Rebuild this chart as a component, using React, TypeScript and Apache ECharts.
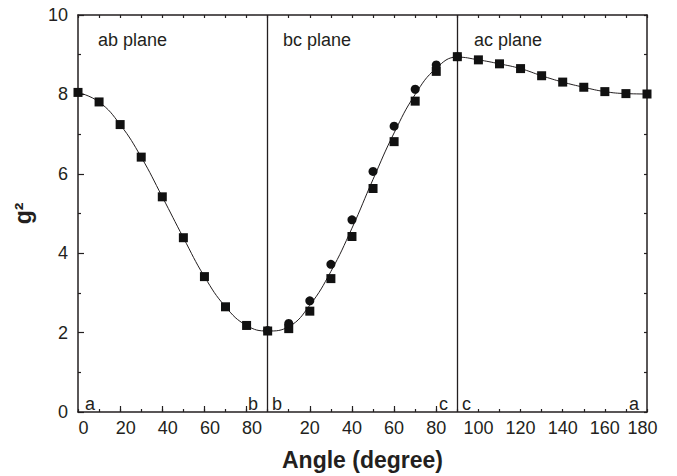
import React, { useEffect, useRef } from "react";
import * as echarts from "echarts";

// ---- data (x = cumulative rotation, 0-90 ab, 90-180 bc, 180-270 ac) ----
const abAngles = [0, 10, 20, 30, 40, 50, 60, 70, 80, 90];
const abSquares = [8.05, 7.81, 7.24, 6.42, 5.42, 4.39, 3.41, 2.65, 2.18, 2.04];

const bcSquareAngles = [100, 110, 120, 130, 140, 150, 160, 170];
const bcSquares = [2.1, 2.54, 3.36, 4.42, 5.63, 6.81, 7.83, 8.58];

const bcCircleAngles = [90, 100, 110, 120, 130, 140, 150, 160, 170, 180];
const bcCircles = [2.05, 2.23, 2.8, 3.72, 4.84, 6.06, 7.2, 8.13, 8.74, 8.95];

const acAngles = [180, 190, 200, 210, 220, 230, 240, 250, 260, 270];
const acSquares = [8.95, 8.87, 8.77, 8.65, 8.47, 8.31, 8.18, 8.07, 8.02, 8.01];

const fitAngles = [
  0, 10, 20, 30, 40, 50, 60, 70, 80, 90, 100, 110, 120, 130, 140, 150, 160, 170,
  180, 190, 200, 210, 220, 230, 240, 250, 260, 270,
];
const fitValues = [
  8.05, 7.81, 7.24, 6.42, 5.42, 4.39, 3.41, 2.65, 2.18, 2.04, 2.15, 2.69, 3.54,
  4.63, 5.86, 7.03, 8.0, 8.66, 8.94, 8.87, 8.77, 8.65, 8.47, 8.31, 8.18, 8.07,
  8.02, 8.01,
];

const planeDividers = [90, 180];
const majorTickPositions = [20, 40, 60, 80, 110, 130, 150, 170];
const planeNames = ["ab plane", "bc plane", "ac plane"];

const INK = "#231f20";
const FONT = "'Liberation Sans', Arial, Helvetica, sans-serif";

const zip = (xs: number[], ys: number[]) => xs.map((x, i) => [x, ys[i]]);

export default function App() {
  const ref = useRef<HTMLDivElement>(null);

  useEffect(() => {
    if (!ref.current) return;
    const chart = echarts.init(ref.current, null, { renderer: "svg" });

    const tickCats = fitAngles.map((v) => String(v));

    const xLabelFormatter = (v: number) => {
      if (v <= 80) return v % 20 === 0 ? `{ab|${v}}` : "";
      if (v === 90 || v === 180) return "";
      const rel = v - 90;
      if (rel % 20 !== 0) return "";
      if (v === 270) return `{end|${rel}}`;
      return String(rel);
    };

    const scatterBase = {
      type: "scatter",
      xAxisIndex: 0,
      yAxisIndex: 0,
      symbolSize: 9,
      itemStyle: { color: "#111111", opacity: 1 },
      z: 5,
    };

    const textStyleBase = { fill: INK, fontSize: 18, fontFamily: FONT };

    chart.setOption({
      animation: false,
      textStyle: { fontFamily: FONT },
      grid: { left: 78, right: 30, top: 15, bottom: 62, containLabel: false },
      xAxis: [
        {
          type: "value",
          min: 0,
          max: 270,
          interval: 10,
          position: "bottom",
          axisLine: { show: true, onZero: false, lineStyle: { color: INK, width: 1.5 } },
          axisTick: { show: true, inside: true, length: 3, lineStyle: { color: INK, width: 1.2 } },
          splitLine: { show: false },
          axisLabel: {
            show: true,
            margin: 7,
            fontSize: 18,
            color: INK,
            fontFamily: FONT,
            showMinLabel: true,
            showMaxLabel: true,
            formatter: xLabelFormatter,
            rich: {
              ab: { fontSize: 18, color: INK, fontFamily: FONT, padding: [0, 0, 0, 11] },
              end: { fontSize: 18, color: INK, fontFamily: FONT, padding: [0, 9, 0, 0] },
            },
          },
          name: "Angle (degree)",
          nameLocation: "middle",
          nameGap: 36,
          nameTextStyle: { fontSize: 23, fontWeight: "bold", color: INK, fontFamily: FONT },
        },
        {
          type: "value",
          min: 0,
          max: 270,
          interval: 10,
          position: "top",
          axisLine: { show: true, onZero: false, lineStyle: { color: INK, width: 1.5 } },
          axisTick: { show: true, inside: true, length: 3, lineStyle: { color: INK, width: 1.2 } },
          axisLabel: { show: false },
          splitLine: { show: false },
        },
        {
          type: "category",
          data: tickCats,
          boundaryGap: false,
          position: "bottom",
          axisLine: { show: false, onZero: false },
          axisTick: {
            show: true,
            inside: true,
            length: 6,
            lineStyle: { color: INK, width: 1.2 },
            interval: (i: number) => majorTickPositions.includes(fitAngles[i]),
          },
          axisLabel: { show: false },
          splitLine: { show: false },
        },
      ],
      yAxis: [
        {
          type: "value",
          min: 0,
          max: 10,
          interval: 2,
          position: "left",
          axisLine: { show: true, onZero: false, lineStyle: { color: INK, width: 1.5 } },
          axisTick: { show: true, inside: true, length: 6, lineStyle: { color: INK, width: 1.2 } },
          minorTick: { show: true, splitNumber: 2, length: 3, lineStyle: { color: INK, width: 1.2 } },
          splitLine: { show: false },
          minorSplitLine: { show: false },
          axisLabel: { fontSize: 18, color: INK, margin: 10, fontFamily: FONT },
          name: "g²",
          nameLocation: "middle",
          nameGap: 44,
          nameRotate: 90,
          nameTextStyle: { fontSize: 23, fontWeight: "bold", color: INK, fontFamily: FONT },
        },
        {
          type: "value",
          min: 0,
          max: 10,
          interval: 1,
          position: "right",
          axisLine: { show: true, onZero: false, lineStyle: { color: INK, width: 1.5 } },
          axisTick: { show: true, inside: true, length: 3, lineStyle: { color: INK, width: 1.2 } },
          axisLabel: { show: false },
          splitLine: { show: false },
        },
      ],
      series: [
        {
          type: "line",
          name: "fit",
          xAxisIndex: 0,
          yAxisIndex: 0,
          data: zip(fitAngles, fitValues),
          smooth: 0.45,
          symbol: "none",
          lineStyle: { color: INK, width: 1 },
          z: 3,
          markLine: {
            silent: true,
            symbol: ["none", "none"],
            label: { show: false },
            lineStyle: { color: INK, width: 1.3, type: "solid" },
            data: planeDividers.map((d) => ({ xAxis: d })),
          },
        },
        { ...scatterBase, name: "ab", symbol: "rect", data: zip(abAngles, abSquares) },
        { ...scatterBase, name: "bc-sq", symbol: "rect", data: zip(bcSquareAngles, bcSquares) },
        { ...scatterBase, name: "ac", symbol: "rect", data: zip(acAngles, acSquares) },
        { ...scatterBase, name: "bc-ci", symbol: "circle", symbolSize: 9, data: zip(bcCircleAngles, bcCircles) },
      ],
      graphic: [
        { type: "text", left: 98, top: 31, style: { ...textStyleBase, text: planeNames[0] } },
        { type: "text", left: 283, top: 31, style: { ...textStyleBase, text: planeNames[1] } },
        { type: "text", left: 474, top: 31, style: { ...textStyleBase, text: planeNames[2] } },
        { type: "text", left: 85, top: 395, style: { ...textStyleBase, text: "a" } },
        { type: "text", left: 248, top: 395, style: { ...textStyleBase, text: "b" } },
        { type: "text", left: 272, top: 395, style: { ...textStyleBase, text: "b" } },
        { type: "text", left: 439, top: 395, style: { ...textStyleBase, text: "c" } },
        { type: "text", left: 462, top: 395, style: { ...textStyleBase, text: "c" } },
        { type: "text", left: 629, top: 395, style: { ...textStyleBase, text: "a" } },
      ],
    });

    return () => chart.dispose();
  }, []);

  return (
    <div
      ref={ref}
      style={{ position: "fixed", left: 0, top: 0, width: 677, height: 476, background: "#fff" }}
    />
  );
}
